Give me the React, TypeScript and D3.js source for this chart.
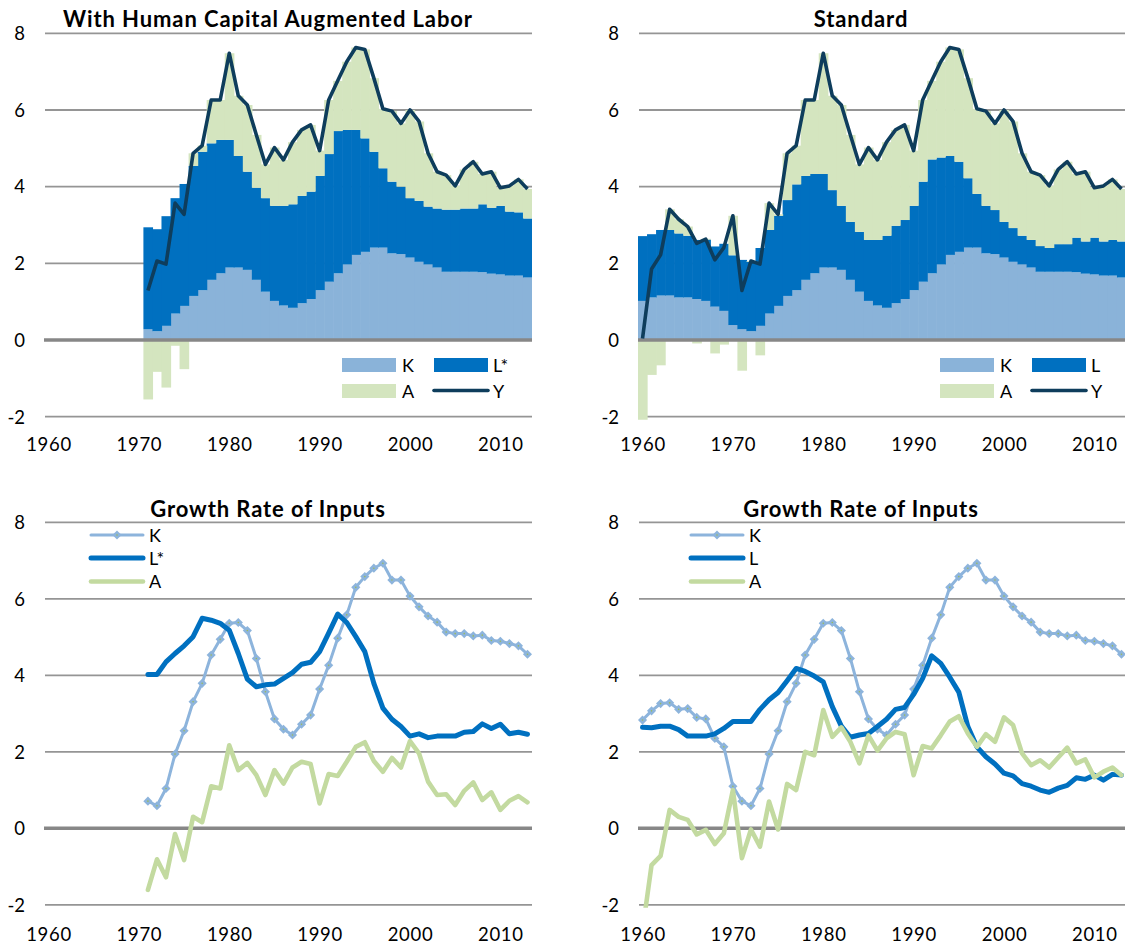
import React from "react";
import * as d3 from "d3";

// ---------- categories & ticks ----------
const YEARS = [
  1960, 1961, 1962, 1963, 1964, 1965, 1966, 1967, 1968, 1969,
  1970, 1971, 1972, 1973, 1974, 1975, 1976, 1977, 1978, 1979,
  1980, 1981, 1982, 1983, 1984, 1985, 1986, 1987, 1988, 1989,
  1990, 1991, 1992, 1993, 1994, 1995, 1996, 1997, 1998, 1999,
  2000, 2001, 2002, 2003, 2004, 2005, 2006, 2007, 2008, 2009,
  2010, 2011, 2012, 2013,
];
const HC_YEARS = YEARS.filter((y) => y >= 1971);
const Y_TICKS = [-2, 0, 2, 4, 6, 8];
const X_TICKS = [1960, 1970, 1980, 1990, 2000, 2010];

// ---------- top panels: contributions to output growth ----------
const Y_GROWTH = [
  0.04, 1.85, 2.22, 3.41, 3.15, 2.96, 2.52, 2.63, 2.09, 2.41,
  3.24, 1.29, 2.06, 1.98, 3.57, 3.28, 4.87, 5.07, 6.26, 6.26,
  7.48, 6.37, 6.13, 5.35, 4.58, 5.02, 4.70, 5.16, 5.48, 5.61,
  4.94, 6.26, 6.76, 7.26, 7.63, 7.58, 6.83, 6.03, 5.97, 5.65,
  6.00, 5.70, 4.87, 4.39, 4.30, 4.02, 4.45, 4.65, 4.33, 4.39,
  3.97, 4.02, 4.19, 3.94,
];
// human-capital version (1971-2013)
const HC_K = [
  0.28, 0.23, 0.37, 0.69, 0.89, 1.15, 1.30, 1.57, 1.74, 1.89,
  1.89, 1.83, 1.57, 1.26, 1.02, 0.90, 0.84, 0.96, 1.07, 1.30,
  1.52, 1.74, 1.97, 2.22, 2.30, 2.41, 2.41, 2.26, 2.24, 2.15,
  2.04, 1.97, 1.89, 1.78, 1.78, 1.78, 1.78, 1.77, 1.73, 1.71,
  1.68, 1.68, 1.63,
];
const HC_L = [
  2.66, 2.66, 2.86, 3.01, 3.18, 3.39, 3.61, 3.56, 3.48, 3.33,
  2.91, 2.56, 2.40, 2.44, 2.48, 2.60, 2.70, 2.80, 2.80, 2.98,
  3.33, 3.71, 3.51, 3.26, 2.96, 2.50, 2.07, 1.87, 1.76, 1.55,
  1.59, 1.51, 1.54, 1.62, 1.62, 1.65, 1.65, 1.77, 1.72, 1.79,
  1.67, 1.65, 1.54,
];
const HC_A = [
  -1.55, -0.83, -1.24, -0.15, -0.76, 0.33, 0.16, 1.13, 1.04, 2.26,
  1.57, 1.74, 1.38, 0.88, 1.52, 1.20, 1.62, 1.72, 1.74, 0.66,
  1.41, 1.31, 1.78, 2.15, 2.32, 1.92, 1.55, 1.84, 1.65, 2.30,
  2.07, 1.39, 0.96, 0.90, 0.62, 1.02, 1.22, 0.79, 0.94, 0.47,
  0.67, 0.86, 0.77,
];
// standard version (1960-2013)
const STD_K = [
  1.02, 1.11, 1.16, 1.16, 1.11, 1.11, 1.07, 1.02, 0.87, 0.76,
  0.39, 0.28, 0.23, 0.37, 0.69, 0.89, 1.15, 1.30, 1.57, 1.74,
  1.89, 1.89, 1.83, 1.57, 1.26, 1.02, 0.90, 0.84, 0.96, 1.07,
  1.30, 1.52, 1.74, 1.97, 2.22, 2.30, 2.41, 2.41, 2.26, 2.24,
  2.15, 2.04, 1.97, 1.89, 1.78, 1.78, 1.78, 1.78, 1.77, 1.73,
  1.71, 1.68, 1.68, 1.63,
];
const STD_L = [
  1.69, 1.65, 1.71, 1.71, 1.67, 1.61, 1.54, 1.60, 1.57, 1.75,
  1.82, 1.81, 1.81, 2.03, 2.18, 2.35, 2.50, 2.76, 2.71, 2.59,
  2.44, 2.02, 1.67, 1.51, 1.56, 1.59, 1.71, 1.88, 2.02, 2.06,
  2.20, 2.61, 2.97, 2.79, 2.58, 2.35, 1.81, 1.40, 1.24, 1.15,
  0.93, 0.88, 0.75, 0.72, 0.67, 0.62, 0.72, 0.72, 0.90, 0.84,
  0.96, 0.89, 0.93, 0.94,
];
const STD_A = [
  -2.67, -0.91, -0.66, 0.54, 0.37, 0.24, -0.09, 0.02, -0.35, -0.12,
  1.03, -0.80, 0.02, -0.40, 0.70, 0.04, 1.22, 1.01, 1.98, 1.93,
  3.15, 2.46, 2.63, 2.27, 1.76, 2.41, 2.09, 2.44, 2.50, 2.48,
  1.44, 2.13, 2.05, 2.50, 2.83, 2.93, 2.61, 2.22, 2.47, 2.26,
  2.92, 2.78, 2.15, 1.78, 1.85, 1.62, 1.95, 2.15, 1.66, 1.82,
  1.30, 1.45, 1.58, 1.37,
];

// ---------- bottom panels: growth rates of inputs ----------
const HC_IN_K = [
  0.71, 0.59, 1.04, 1.94, 2.55, 3.31, 3.79, 4.53, 4.94, 5.36,
  5.38, 5.17, 4.44, 3.57, 2.86, 2.59, 2.44, 2.72, 2.96, 3.64,
  4.26, 4.97, 5.58, 6.30, 6.58, 6.80, 6.93, 6.49, 6.49, 6.07,
  5.79, 5.55, 5.39, 5.13, 5.09, 5.09, 5.03, 5.05, 4.91, 4.89,
  4.83, 4.77, 4.55,
];
const HC_IN_L = [
  4.02, 4.02, 4.35, 4.57, 4.77, 5.01, 5.49, 5.44, 5.36, 5.18,
  4.57, 3.90, 3.70, 3.75, 3.77, 3.92, 4.07, 4.29, 4.34, 4.62,
  5.10, 5.60, 5.38, 5.01, 4.62, 3.79, 3.14, 2.85, 2.66, 2.41,
  2.47, 2.37, 2.41, 2.41, 2.41, 2.51, 2.53, 2.73, 2.61, 2.72,
  2.47, 2.51, 2.46,
];
const HC_IN_A = [
  -1.61, -0.81, -1.28, -0.15, -0.83, 0.30, 0.16, 1.10, 1.04, 2.17,
  1.52, 1.71, 1.39, 0.87, 1.52, 1.17, 1.59, 1.74, 1.68, 0.65,
  1.42, 1.37, 1.74, 2.13, 2.25, 1.76, 1.48, 1.84, 1.59, 2.28,
  1.96, 1.22, 0.87, 0.89, 0.61, 0.98, 1.20, 0.74, 0.94, 0.48,
  0.72, 0.84, 0.68,
];
const STD_IN_K = [
  2.83, 3.07, 3.26, 3.28, 3.11, 3.13, 2.90, 2.86, 2.35, 2.13,
  1.10, 0.71, 0.59, 1.04, 1.94, 2.55, 3.31, 3.79, 4.53, 4.94,
  5.36, 5.38, 5.17, 4.44, 3.57, 2.86, 2.59, 2.44, 2.72, 2.96,
  3.64, 4.26, 4.97, 5.58, 6.30, 6.58, 6.80, 6.93, 6.49, 6.49,
  6.07, 5.79, 5.55, 5.39, 5.13, 5.09, 5.09, 5.03, 5.05, 4.91,
  4.89, 4.83, 4.77, 4.55,
];
const STD_IN_L = [
  2.64, 2.63, 2.67, 2.67, 2.58, 2.41, 2.41, 2.41, 2.47, 2.61,
  2.79, 2.79, 2.79, 3.11, 3.36, 3.55, 3.86, 4.18, 4.10, 3.98,
  3.83, 3.18, 2.67, 2.38, 2.44, 2.48, 2.66, 2.85, 3.11, 3.16,
  3.50, 3.92, 4.51, 4.31, 3.95, 3.56, 2.66, 2.13, 1.87, 1.68,
  1.44, 1.37, 1.17, 1.10, 1.00, 0.94, 1.05, 1.12, 1.32, 1.28,
  1.39, 1.26, 1.41, 1.39,
];
const STD_IN_A = [
  -2.67, -0.96, -0.72, 0.48, 0.30, 0.22, -0.16, -0.04, -0.41, -0.13,
  1.00, -0.78, -0.03, -0.48, 0.70, -0.03, 1.16, 1.00, 2.00, 1.91,
  3.09, 2.39, 2.64, 2.26, 1.70, 2.43, 2.03, 2.35, 2.52, 2.46,
  1.39, 2.15, 2.09, 2.43, 2.79, 2.93, 2.48, 2.13, 2.46, 2.26,
  2.90, 2.70, 1.96, 1.65, 1.78, 1.59, 1.85, 2.11, 1.70, 1.80,
  1.33, 1.48, 1.59, 1.39,
];

// ---------- styling ----------
const FONT = "Lato, 'Open Sans', 'DejaVu Sans', sans-serif";
const C_K_BAR = "#8AB3D9";
const C_L_BAR = "#0070C0";
const C_A_BAR = "#D4E5BF";
const C_Y = "#0E3D5C";
const C_K_LINE = "#8DB4DC";
const C_L_LINE = "#0070C0";
const C_A_LINE = "#C3DAA0";
const C_GRID = "#959595";
const C_ZERO = "#878787";

const PLOT_W = 488;
const LEFT_X0 = 44;
const RIGHT_X0 = 638;

function makeX(x0: number) {
  return d3
    .scaleBand<number>()
    .domain(YEARS)
    .range([x0, x0 + PLOT_W])
    .paddingInner(0)
    .paddingOuter(0);
}

function Frame({ x, y, id, xLabelBaseline, children }: any) {
  const [x0, x1] = x.range();
  const bw = x.bandwidth();
  return (
    <g>
      <defs>
        <clipPath id={id}>
          <rect x={x0} y={y(8) - 12} width={x1 - x0} height={y(-2) - y(8) + 15} />
        </clipPath>
      </defs>
      {Y_TICKS.filter((t) => t !== 0).map((t) => (
        <line key={t} x1={x0 + 1} x2={x1} y1={y(t)} y2={y(t)} stroke={C_GRID} strokeWidth={1.8} />
      ))}
      <g clipPath={`url(#${id})`}>{children}</g>
      {Y_TICKS.map((t) => (
        <text
          key={t}
          x={x0 - 19}
          y={y(t) + 6.8}
          textAnchor="end"
          fontFamily={FONT}
          fontSize={18.5}
          fill="#000"
        >
          {t}
        </text>
      ))}
      {X_TICKS.map((t) => (
        <text
          key={t}
          x={(x(t) as number) + bw / 2 + 0.5}
          y={xLabelBaseline}
          textAnchor="middle"
          fontFamily={FONT}
          fontSize={18.5}
          letterSpacing={0.7}
          fill="#000"
        >
          {t}
        </text>
      ))}
    </g>
  );
}

function StackPanel({ x0, years, K, L, A, yVals, yYears, labelL, title, titleX, legendX, id }: any) {
  const x = makeX(x0);
  const y = d3.scaleLinear().domain([-2, 8]).range([416.7, 33.3]);
  const bw = x.bandwidth();
  const rows = years.map((yr: number, i: number) => ({ year: yr, K: K[i], L: L[i], A: A[i] }));
  const series = d3.stack<any>().keys(["K", "L", "A"]).offset(d3.stackOffsetDiverging)(rows);
  const colors: any = { K: C_K_BAR, L: C_L_BAR, A: C_A_BAR };
  const linePts = yYears.map((yr: number, i: number) => [yr, yVals[i]]);
  const line = d3
    .line<any>()
    .x((d) => (x(d[0]) as number) + bw / 2)
    .y((d) => y(d[1]));
  const [px0, px1] = x.range();
  return (
    <g>
      <Frame x={x} y={y} id={id} xLabelBaseline={451}>
        {series.map((s: any) => (
          <g key={s.key} fill={colors[s.key]}>
            {s.map((d: any, i: number) => (
              <rect
                key={i}
                x={x(d.data.year) as number}
                y={y(d[1])}
                width={bw + 0.6}
                height={Math.max(0, y(d[0]) - y(d[1]))}
              />
            ))}
          </g>
        ))}
        <line x1={px0} x2={px1} y1={y(0)} y2={y(0)} stroke={C_ZERO} strokeWidth={3.6} />
        <path d={line(linePts) || ""} fill="none" stroke={C_Y} strokeWidth={3.6} strokeLinejoin="round" />
      </Frame>
      <text x={titleX} y={27} textAnchor="middle" fontFamily={FONT} fontWeight={700} fontSize={22} letterSpacing={0.9}>
        {title}
      </text>
      {/* legend */}
      <g fontFamily={FONT} fontSize={18} fill="#000">
        <rect x={legendX} y={358} width={54} height={14} fill={C_K_BAR} />
        <text x={legendX + 60} y={371.5}>K</text>
        <rect x={legendX + 92} y={358} width={54} height={14} fill={C_L_BAR} />
        <text x={legendX + 151} y={371.5}>{labelL}</text>
        <rect x={legendX} y={384} width={54} height={14} fill={C_A_BAR} />
        <text x={legendX + 60} y={397.5}>A</text>
        <line x1={legendX + 92} x2={legendX + 146} y1={390.5} y2={390.5} stroke={C_Y} strokeWidth={3.6} strokeLinecap="round" />
        <text x={legendX + 151} y={397.5}>Y</text>
      </g>
    </g>
  );
}

function LinePanel({ x0, kYears, K, lYears, L, aYears, A, labelL, titleX, legendX, id }: any) {
  const x = makeX(x0);
  const y = d3.scaleLinear().domain([-2, 8]).range([904.8, 522.3]);
  const bw = x.bandwidth();
  const [px0, px1] = x.range();
  const mk = (yrs: number[], vals: number[]) => yrs.map((yr, i) => [yr, vals[i]]);
  const line = d3
    .line<any>()
    .x((d) => (x(d[0]) as number) + bw / 2)
    .y((d) => y(d[1]));
  const kPts = mk(kYears, K);
  const diamond = d3.symbol().type(d3.symbolSquare).size(42)() || "";
  const ly = [535, 558, 581.5];
  return (
    <g>
      <Frame x={x} y={y} id={id} xLabelBaseline={940.5}>
        <line x1={px0} x2={px1} y1={y(0)} y2={y(0)} stroke={C_ZERO} strokeWidth={3.6} />
        <path d={line(kPts) || ""} fill="none" stroke={C_K_LINE} strokeWidth={3} strokeLinejoin="round" />
        {kPts.map((d, i) => (
          <g key={i} transform={`translate(${(x(d[0]) as number) + bw / 2},${y(d[1])})`}>
            <path d={diamond} transform="rotate(45)" fill={C_K_LINE} />
            <circle r={0.8} fill="#9BBB59" />
          </g>
        ))}
        <path d={line(mk(lYears, L)) || ""} fill="none" stroke={C_L_LINE} strokeWidth={5} strokeLinejoin="round" strokeLinecap="round" />
        <path d={line(mk(aYears, A)) || ""} fill="none" stroke={C_A_LINE} strokeWidth={4.6} strokeLinejoin="round" strokeLinecap="round" />
      </Frame>
      <text x={titleX} y={517} textAnchor="middle" fontFamily={FONT} fontWeight={700} fontSize={22} letterSpacing={0.9}>
        Growth Rate of Inputs
      </text>
      <g fontFamily={FONT} fontSize={18} fill="#000">
        <line x1={legendX + 2} x2={legendX + 54} y1={ly[0]} y2={ly[0]} stroke={C_K_LINE} strokeWidth={3} strokeLinecap="round" />
        <g transform={`translate(${legendX + 28},${ly[0]})`}>
          <path d={diamond} transform="rotate(45)" fill={C_K_LINE} />
          <circle r={0.8} fill="#9BBB59" />
        </g>
        <text x={legendX + 60} y={ly[0] + 6.5}>K</text>
        <line x1={legendX + 2} x2={legendX + 54} y1={ly[1]} y2={ly[1]} stroke={C_L_LINE} strokeWidth={5} strokeLinecap="round" />
        <text x={legendX + 60} y={ly[1] + 6.5}>{labelL}</text>
        <line x1={legendX + 2} x2={legendX + 54} y1={ly[2]} y2={ly[2]} stroke={C_A_LINE} strokeWidth={4.6} strokeLinecap="round" />
        <text x={legendX + 60} y={ly[2] + 6.5}>A</text>
      </g>
    </g>
  );
}

export default function App() {
  return (
    <svg
      width={1125}
      height={949}
      viewBox="0 0 1125 949"
      style={{ position: "absolute", left: 0, top: 0, background: "#fff" }}
    >
      <rect x={0} y={0} width={1125} height={949} fill="#fff" />
      <StackPanel
        id="clipTL"
        x0={LEFT_X0}
        years={HC_YEARS}
        K={HC_K}
        L={HC_L}
        A={HC_A}
        yYears={HC_YEARS}
        yVals={Y_GROWTH.slice(YEARS.indexOf(1971))}
        labelL="L*"
        title="With Human Capital Augmented Labor"
        titleX={268}
        legendX={342}
      />
      <StackPanel
        id="clipTR"
        x0={RIGHT_X0}
        years={YEARS}
        K={STD_K}
        L={STD_L}
        A={STD_A}
        yYears={YEARS}
        yVals={Y_GROWTH}
        labelL="L"
        title="Standard"
        titleX={861}
        legendX={940}
      />
      <LinePanel
        id="clipBL"
        x0={LEFT_X0}
        kYears={HC_YEARS}
        K={HC_IN_K}
        lYears={HC_YEARS}
        L={HC_IN_L}
        aYears={HC_YEARS}
        A={HC_IN_A}
        labelL="L*"
        titleX={268}
        legendX={89}
      />
      <LinePanel
        id="clipBR"
        x0={RIGHT_X0}
        kYears={YEARS}
        K={STD_IN_K}
        lYears={YEARS}
        L={STD_IN_L}
        aYears={YEARS}
        A={STD_IN_A}
        labelL="L"
        titleX={861}
        legendX={689}
      />
    </svg>
  );
}
